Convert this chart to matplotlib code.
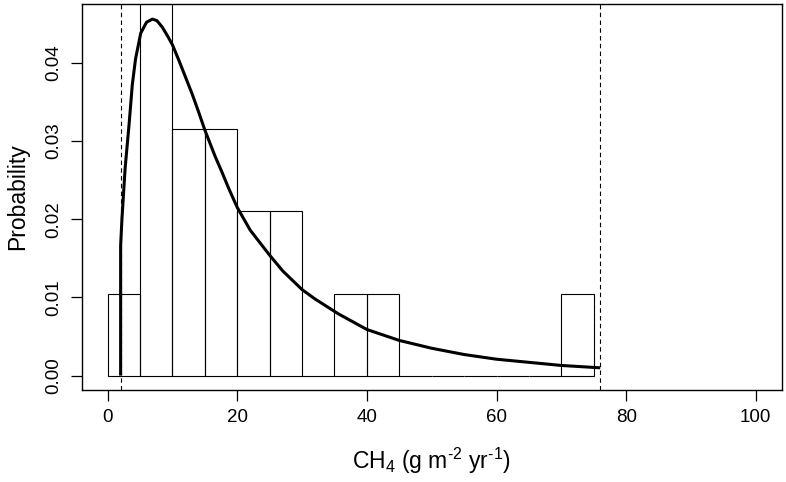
import matplotlib
matplotlib.use("Agg")
import matplotlib.pyplot as plt
import numpy as np

plt.rcParams['font.family'] = ['Liberation Sans', 'DejaVu Sans']
plt.rcParams['mathtext.default'] = 'regular'

# histogram bins (width 5) and densities
bin_left = [0, 5, 10, 15, 20, 25, 30, 35, 40, 45, 50, 55, 60, 65, 70]
density = [0.0105, 0.0526, 0.0316, 0.0316, 0.0211, 0.0211, 0.0, 0.0105,
           0.0105, 0.0, 0.0, 0.0, 0.0, 0.0, 0.0105]
bin_width = 5

# fitted density curve
curve_x = [2, 2, 2.2, 2.7, 3.3, 3.8, 4.3, 5.1, 6.0, 6.9, 7.6, 8.4, 9.2, 10,
           11, 12, 13, 14, 15, 16.6, 17.6, 18.7, 20, 22, 24.9, 27, 30,
           32, 35.6, 40, 45, 50, 55, 60, 65, 70, 76]
curve_y = [0, 0.0166, 0.0200, 0.0266, 0.0321, 0.0372, 0.0405, 0.0438, 0.0452,
           0.0456, 0.0454, 0.0446, 0.0435, 0.0423, 0.0403, 0.0382, 0.0361,
           0.0338, 0.0314, 0.0280, 0.0261, 0.0239, 0.0215, 0.0186, 0.0155,
           0.0134, 0.0110, 0.0098, 0.0079, 0.0059, 0.0045, 0.0035, 0.0027,
           0.0021, 0.0017, 0.0013, 0.0010]

# range limits (dashed lines)
limits = [2, 76]

fig = plt.figure(figsize=(7.86, 4.82), dpi=100)
ax = fig.add_axes([0.104, 0.191, 0.8905, 0.8007])

ax.bar(bin_left, density, width=bin_width, align='edge', fill=False,
       edgecolor='black', linewidth=0.8)
ax.plot(curve_x, curve_y, color='black', linewidth=2.2, solid_joinstyle='round',
        solid_capstyle='butt')
for v in limits:
    ax.axvline(v, color='black', linestyle=(0, (4, 3)), linewidth=0.8)

ax.set_xlim(-4, 104)
ax.set_ylim(-0.00183, 0.04753)
ax.set_xticks([0, 20, 40, 60, 80, 100])
ax.set_yticks([0.0, 0.01, 0.02, 0.03, 0.04])
ax.set_yticklabels(['0.00', '0.01', '0.02', '0.03', '0.04'], rotation=90, va='center')
ax.tick_params(direction='out', length=8, width=0.9, labelsize=13.5, pad=6)

for s in ax.spines.values():
    s.set_linewidth(1.0)

ax.set_xlabel('CH$_4$ (g m$^{\u20102}$ yr$^{\u20101}$)', fontsize=16.5, labelpad=14)
ax.set_ylabel('Probability', fontsize=16.5, labelpad=12)

fig.savefig('out.png', dpi=100)
